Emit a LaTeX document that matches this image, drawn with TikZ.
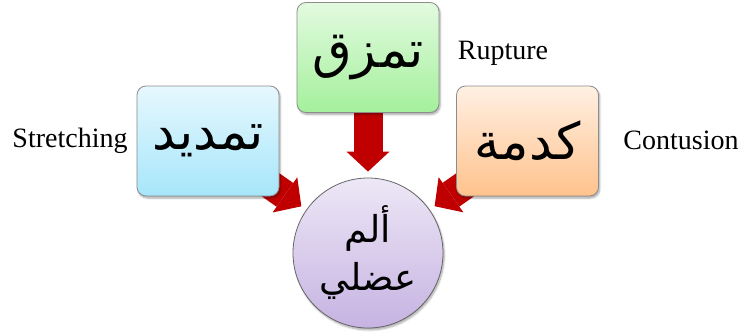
\documentclass[tikz,border=0pt]{standalone}
\usepackage{fontspec}
\setmainfont{Liberation Serif}
\newfontfamily\arabicfont[Script=Arabic]{DejaVu Sans}
\TeXXeTstate=1
\usetikzlibrary{arrows.meta,shadows.blur}
\pgfdeclarelayer{bg}
\pgfsetlayers{bg,main}

\definecolor{arrowred}{HTML}{C00000}
\definecolor{blueTop}{HTML}{E6F8FE}
\definecolor{blueBot}{HTML}{A6E6FA}
\definecolor{greenTop}{HTML}{E2FADF}
\definecolor{greenBot}{HTML}{A4F09C}
\definecolor{orangeTop}{HTML}{FFF0E3}
\definecolor{orangeBot}{HTML}{FFC28C}
\definecolor{lilacTop}{HTML}{EDE7F6}
\definecolor{lilacBot}{HTML}{C6B3E2}

\begin{document}
\begin{tikzpicture}[x=1pt,y=-1pt,
  softshadow/.style={blur shadow={shadow xshift=1.2pt, shadow yshift=-2pt,
      shadow opacity=35, shadow blur steps=6}},
  card/.style={draw=black!45, line width=0.8pt, rounded corners=9pt,
      minimum width=142pt, minimum height=110pt, inner sep=0pt, softshadow,
      font=\arabicfont\fontsize{51}{60}\selectfont},
  bluecard/.style={card, top color=blueTop, bottom color=blueBot},
  greencard/.style={card, top color=greenTop, bottom color=greenBot},
  orangecard/.style={card, top color=orangeTop, bottom color=orangeBot},
  hub/.style={circle, draw=black!60, line width=0.8pt, minimum size=150pt,
      inner sep=0pt, softshadow, top color=lilacTop, bottom color=lilacBot,
      align=center, font=\arabicfont\fontsize{37}{48}\selectfont},
  lbl/.style={font=\fontsize{28}{30}\selectfont, inner sep=0pt},
  blockarrow/.style={draw=arrowred, line width=29pt,
      -{Triangle[length=20pt, width=43pt, line width=0pt, fill=arrowred]}},
]
\useasboundingbox (0,0) rectangle (744,335);

% cause cards and the central effect
\node[bluecard]   (stretch) at (208,141)   {\beginR تمديد\endR};
\node[greencard]  (rupture) at (368,57.5)  {\beginR تمزق\endR};
\node[orangecard] (bruise)  at (527.5,141) {\beginR كدمة\endR};
\node[hub]        (pain)    at (368,253)   {\beginR ألم\endR\\\beginR عضلي\endR};

% English captions
\node[lbl] (stretchlbl) at (70,141)  {Stretching};
\node[lbl] (rupturelbl) at (503,53)  {Rupture};
\node[lbl] (bruiselbl)  at (681,140) {Contusion};

% block arrows run from behind each card towards the circle
\begin{pgfonlayer}{bg}
  \draw[blockarrow, shorten >=6pt] (stretch.center) -- (pain);
  \draw[blockarrow, shorten >=6pt] (rupture.center) -- (pain);
  \draw[blockarrow, shorten >=6pt] (bruise.center) -- (pain);
\end{pgfonlayer}
\end{tikzpicture}
\end{document}
